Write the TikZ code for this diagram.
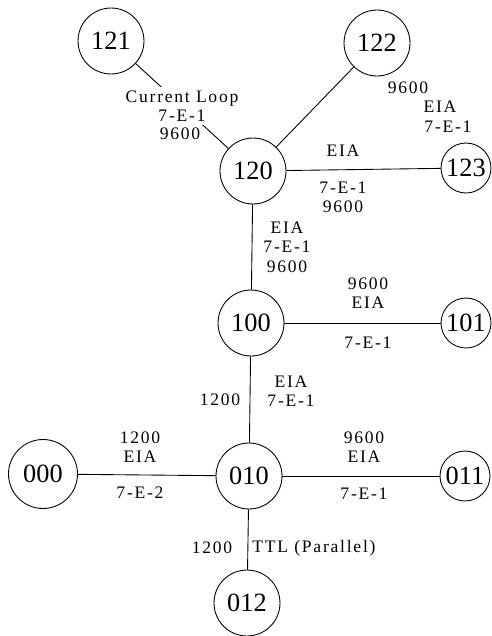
\documentclass[tikz,border=0pt]{standalone}
\usepackage{fontspec}
\setmainfont{Liberation Serif}
\begin{document}
\begin{tikzpicture}[x=0.02cm, y=-0.02cm, line width=0.5pt,
    station/.style={draw, circle, inner sep=0pt, minimum size=1.32cm, font=\fontsize{15}{16}\selectfont},
    stub/.style={draw, circle, inner sep=0pt, minimum size=1cm, font=\fontsize{15}{16}\selectfont},
    lbl/.style={align=center, inner sep=1pt, font=\fontsize{10}{11}\selectfont\addfontfeatures{LetterSpace=10}}]
  \useasboundingbox (0,0) rectangle (492,636);

  % stations
  \node[station] (s121) at (111,41) {121};
  \node[station] (s122) at (377,43) {122};
  \node[station] (s120) at (253,171) {120};
  \node[stub] (s123) at (466,168) {123};
  \node[station] (s100) at (251,323) {100};
  \node[stub] (s101) at (466,323) {101};
  \node[station, minimum size=1.38cm] (s000) at (43,474) {000};
  \node[station] (s010) at (249,476) {010};
  \node[stub] (s011) at (465,476) {011};
  \node[station] (s012) at (247,603) {012};

  % links
  \draw (s121) -- (s120);
  \draw (s122) -- (s120);
  \draw (s120) -- (s123);
  \draw (s120) -- (s100);
  \draw (s100) -- (s101);
  \draw (s100) -- (s010);
  \draw (s000) -- (s010);
  \draw (s010) -- (s011);
  \draw (s010) -- (s012);

  % link settings
  \node[lbl, fill=white, inner sep=2pt] (loop) at (182,106) {Current Loop\\7-E-1};
  \node[lbl, fill=white] (loopbaud) at (180,134) {9600};
  \node[lbl] (r122a) at (408,88) {9600};
  \node[lbl] (r122b) at (440,107) {EIA};
  \node[lbl] (r122c) at (448,127) {7-E-1};
  \node[lbl] (r123a) at (343,151) {EIA};
  \node[lbl] (r123b) at (343,197) {7-E-1\\9600};
  \node[lbl] (r100) at (287,247) {EIA\\7-E-1\\9600};
  \node[lbl] (r101a) at (368,293) {9600\\EIA};
  \node[lbl] (r101b) at (368,343) {7-E-1};
  \node[lbl] (r010a) at (291,391) {EIA\\7-E-1};
  \node[lbl] (r010b) at (220,400) {1200};
  \node[lbl] (r000a) at (140,447) {1200\\EIA};
  \node[lbl] (r000b) at (140,493) {7-E-2};
  \node[lbl] (r011a) at (364,447) {9600\\EIA};
  \node[lbl] (r011b) at (364,494) {7-E-1};
  \node[lbl] (r012a) at (212,548) {1200};
  \node[lbl] (r012b) at (314,548) {TTL (Parallel)};
\end{tikzpicture}
\end{document}
